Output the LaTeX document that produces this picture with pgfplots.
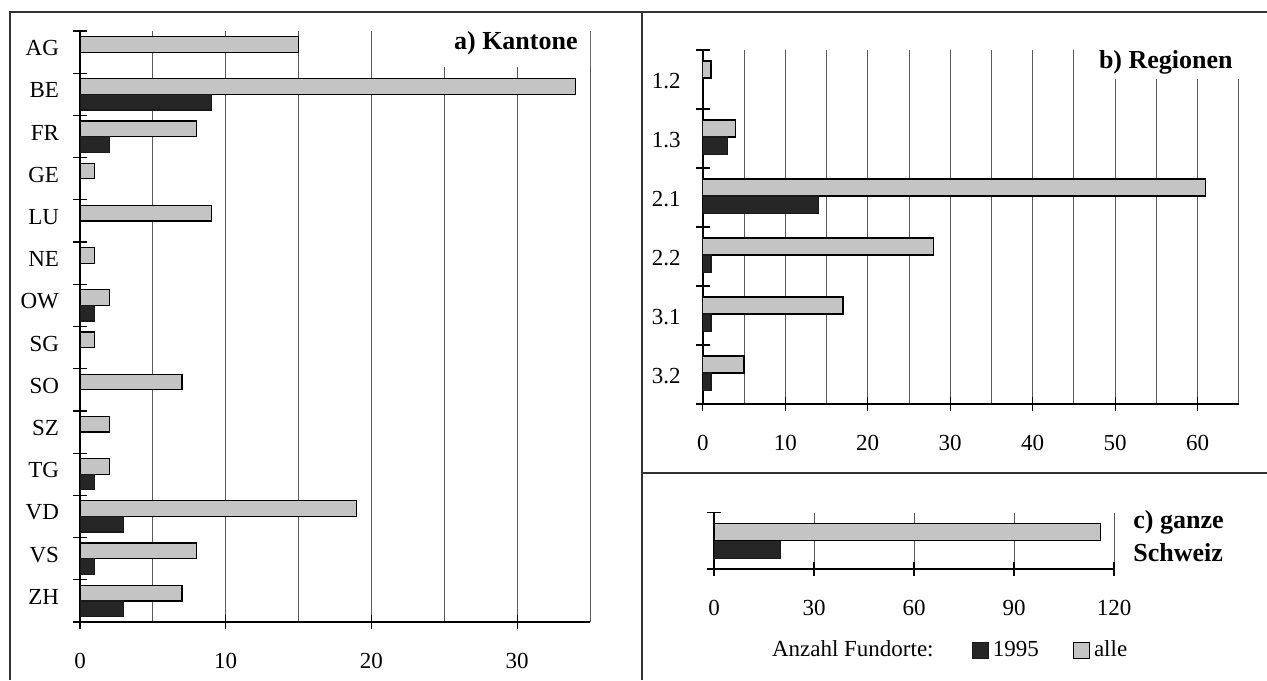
\documentclass[border=0pt]{standalone}
\usepackage{fontspec}
\setmainfont{Liberation Serif}
\usepackage{pgfplots}
\usepackage{pgfplotstable}
\pgfplotsset{compat=1.18}
\pgfplotsset{sqlegend/.style={legend image code/.code={\draw[##1] (0pt,-4pt) rectangle (8pt,4pt);}}}
\pgfplotstableread{
y alle
0 15
1 34
2 8
3 1
4 9
5 1
6 2
7 1
8 7
9 2
10 2
11 19
12 8
13 7
}\kantonealle
\pgfplotstableread{
y n
1 9
2 2
6 1
10 1
11 3
12 1
13 3
}\kantoneneu
\pgfplotstableread{
y alle
0 1
1 4
2 61
3 28
4 17
5 5
}\regionenalle
\pgfplotstableread{
y n
1 3
2 14
3 1
4 1
5 1
}\regionenneu
\begin{document}
\begin{tikzpicture}
\path[use as bounding box] (0,0) rectangle (633.5pt,340pt);
\pgfplotsset{
  mybar/.style={
    scale only axis, y dir=reverse,
    axis x line*=bottom, axis y line*=left,
    axis line style={-, black, line width=0.7pt},
    xmin=0, ymajorgrids=false, xmajorgrids=true,
    tick align=center, major tick length=7pt, minor tick length=0pt,
    tick style={black, line width=0.6pt},
    major grid style={black!65, line width=0.45pt},
    minor grid style={black!65, line width=0.45pt},
    y tick label as interval,
    ticklabel style={font=\fontsize{11.5}{13}\selectfont},
    /pgf/number format/assume math mode=true,
    xticklabel style={anchor=north, yshift=-8.5pt},
    yticklabel style={anchor=east, xshift=-3pt},
  },
  alle/.style={xbar, fill=black!23, draw=black, line width=0.6pt},
  neu/.style={xbar, fill=black!85, draw=black!90, line width=0.6pt},
}
% frame
\draw[black!80, line width=0.8pt] (5pt,0pt) -- (5pt,334pt) -- (633.5pt,334pt);
\draw[black!80, line width=0.8pt] (321pt,0pt) -- (321pt,334pt);
\draw[black!80, line width=0.8pt] (321pt,103.5pt) -- (633.5pt,103.5pt);

% a) Kantone
\begin{axis}[mybar, at={(40pt,29pt)}, anchor=south west,
  width=255pt, height=295.5pt, xmax=35, ymin=-0.5, ymax=13.5,
  xtick={0,10,20,30}, minor xtick={5,15,25,35}, xminorgrids=true,
  ytick={-0.5,0.5,...,13.5},
  yticklabels={AG,BE,FR,GE,LU,NE,OW,SG,SO,SZ,TG,VD,VS,ZH},
  yticklabel style={anchor=east, xshift=-0.5pt, yshift=2pt},
  bar width=0.37]
\fill[white] (axis cs:24.4,-0.6) rectangle (axis cs:36,0.35);
\addplot[alle, bar shift=-0.185] table[x=alle, y=y] {\kantonealle};
\addplot[neu, bar shift=0.185] table[x=n, y=y] {\kantoneneu};
\end{axis}
\node[anchor=base east, font=\bfseries\fontsize{13}{15}\selectfont, inner sep=0pt] at (289pt,315.25pt) {a) Kantone};

% b) Regionen
\begin{axis}[mybar, at={(351.4pt,138pt)}, anchor=south west,
  width=268pt, height=177pt, xmax=65, ymin=-0.5, ymax=5.5,
  xtick={0,10,...,60}, minor xtick={5,15,...,65}, xminorgrids=true,
  ytick={-0.5,0.5,...,5.5},
  yticklabels={1.2,1.3,2.1,2.2,3.1,3.2},
  yticklabel style={anchor=east, xshift=-1pt, yshift=-1pt},
  bar width=0.29]
\fill[white] (axis cs:47,-0.6) rectangle (axis cs:66,0.0);
\addplot[alle, bar shift=-0.17] table[x=alle, y=y] {\regionenalle};
\addplot[neu, bar shift=0.12] table[x=n, y=y] {\regionenneu};
\end{axis}
\node[anchor=base east, font=\bfseries\fontsize{13}{15}\selectfont, inner sep=0pt] at (616.5pt,305.85pt) {b) Regionen};

% c) ganze Schweiz
\begin{axis}[mybar, at={(357pt,55.5pt)}, anchor=south west,
  width=200pt, height=28.25pt, xmax=120, ymin=-0.5, ymax=0.5,
  xtick={0,30,60,90,120},
  ytick={-0.5,0.5}, yticklabels={},
  bar width=0.31,
  legend columns=3,
  legend style={at={(0.589,-1.44)}, anchor=center, draw=none, fill=none,
    font=\fontsize{11.5}{13}\selectfont, inner sep=0pt,
    /tikz/column 2/.style={column sep=17pt},
    /tikz/column 4/.style={column sep=15pt}},
  legend cell align=left]
\addlegendimage{empty legend}
\addlegendentry{Anzahl Fundorte:}
\addplot[neu, bar shift=0.155, sqlegend] coordinates {(20,0)};
\addlegendentry{1995}
\addplot[alle, bar shift=-0.155, sqlegend] coordinates {(116,0)};
\addlegendentry{alle}
\end{axis}
\node[anchor=base west, font=\bfseries\fontsize{13}{15}\selectfont, inner sep=0pt] at (566.5pt,76pt) {c) ganze};
\node[anchor=base west, font=\bfseries\fontsize{13}{15}\selectfont, inner sep=0pt] at (566.5pt,59.5pt) {Schweiz};
\end{tikzpicture}
\end{document}
